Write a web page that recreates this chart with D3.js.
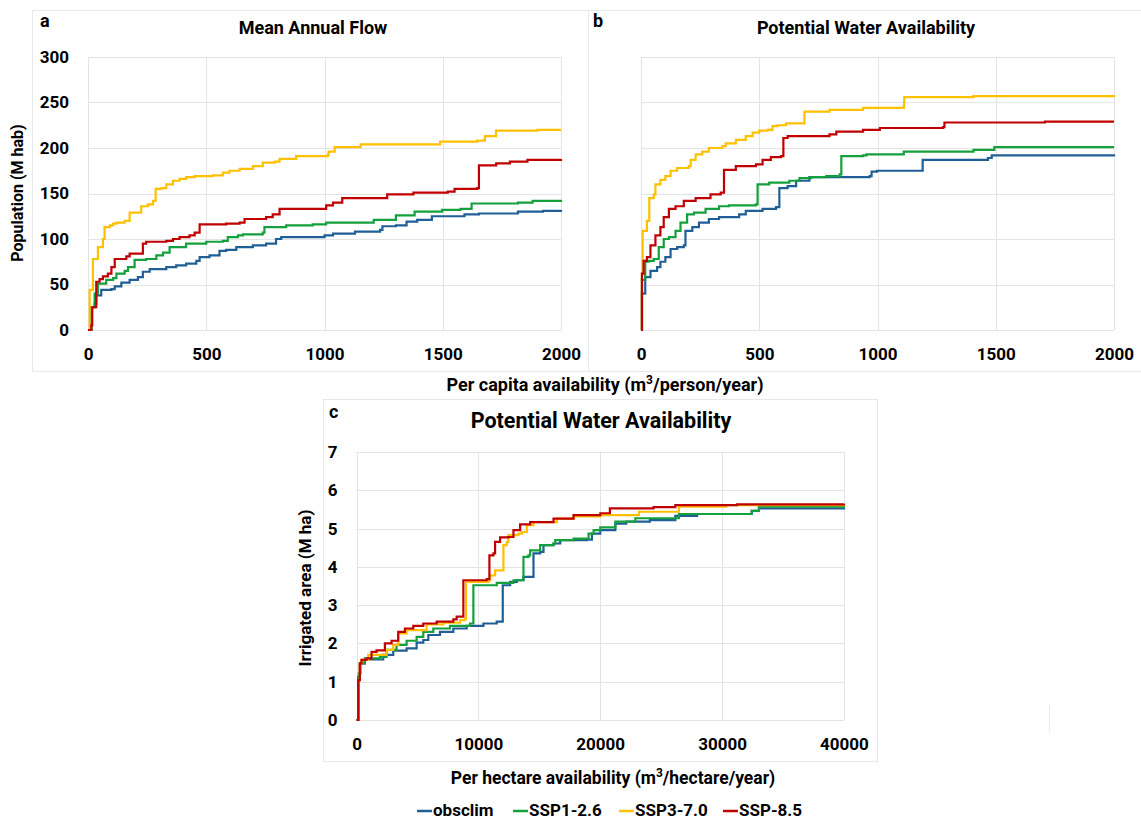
<!DOCTYPE html>
<html>
<head>
<meta charset="utf-8">
<script src="https://cdn.jsdelivr.net/npm/d3@7"></script>
<style>
    body { margin: 0; background: #fff; }
    svg text { font-family: Roboto, "Noto Sans", sans-serif; font-weight: bold; fill: #000; }
    .grid line { stroke: #e4e4e4; stroke-width: 1; }
    .tick text { font-size: 17px; }
</style>
</head>
<body>
<div id="chart"></div>
<script>

// series names and colours
var seriesNames = ["obsclim", "SSP1-2.6", "SSP3-7.0", "SSP-8.5"];
var seriesColors = ["#1f5f96", "#14a03c", "#ffc000", "#c00000"];

// panel a : Mean Annual Flow, [availability m3/person/year, population M hab]
var flowObsclim = [[0,0],[14,25],[28,29],[35,38],[56,44],[99,45],[113,48],[141,52],[176,55],[211,58],[232,64],[261,67],[331,69],[373,71],[415,73],[458,76],[472,80],[514,82],[556,87],[584,88],[627,91],[697,93],[753,95],[795,100],[817,102],[1000,104],[1036,106],[1129,108],[1235,110],[1245,114],[1302,115],[1347,119],[1392,121],[1454,125],[1592,127],[1653,128],[1818,130],[1924,131],[2000,132]];
var flowSsp126 = [[0,0],[14,25],[28,40],[42,51],[77,55],[106,57],[120,62],[155,65],[169,69],[197,77],[246,78],[289,82],[317,85],[345,91],[415,95],[500,97],[570,98],[591,102],[634,104],[655,105],[739,107],[746,113],[838,115],[950,116],[1007,118],[1208,121],[1302,126],[1381,130],[1497,132],[1575,133],[1622,139],[1818,140],[1880,142],[2000,143]];
var flowSsp370 = [[0,0],[7,44],[21,78],[42,91],[63,100],[70,113],[92,115],[106,117],[120,118],[155,120],[176,129],[211,129],[225,136],[253,138],[275,142],[286,155],[310,156],[331,160],[359,164],[387,166],[415,168],[451,169],[528,170],[570,173],[598,175],[641,177],[697,180],[739,184],[789,185],[810,188],[880,191],[1014,193],[1018,196],[1043,201],[1153,204],[1489,207],[1646,208],[1678,213],[1725,219],[1900,220],[2000,220]];
var flowSsp585 = [[0,0],[14,5],[18,25],[35,53],[49,56],[63,59],[84,62],[99,69],[113,78],[134,78],[162,81],[176,84],[218,84],[232,95],[246,97],[331,98],[359,100],[387,102],[429,104],[451,107],[472,116],[528,116],[584,117],[641,118],[662,122],[753,124],[781,127],[810,133],[979,133],[1007,137],[1036,140],[1075,145],[1265,149],[1376,151],[1521,152],[1550,155],[1646,156],[1653,181],[1726,183],[1784,185],[1858,187],[2000,188]];

// panel b : Potential Water Availability, [availability m3/person/year, population M hab]
var pwaObsclim = [[0,0],[4,40],[18,58],[40,65],[68,69],[82,75],[103,80],[125,89],[153,91],[181,93],[188,109],[217,113],[245,118],[287,122],[330,124],[415,127],[443,131],[514,133],[571,135],[585,156],[620,158],[656,164],[712,168],[826,168],[967,169],[975,174],[998,175],[1191,187],[1467,189],[1483,192],[2000,193]];
var pwaSsp126 = [[0,0],[4,55],[18,75],[33,76],[54,78],[75,91],[96,100],[118,102],[146,109],[167,118],[195,127],[224,129],[273,133],[330,136],[372,137],[486,138],[493,160],[542,162],[627,164],[670,167],[719,168],[783,169],[840,171],[847,191],[939,192],[953,193],[1111,196],[1406,198],[1494,201],[2000,201]];
var pwaSsp370 = [[0,0],[4,62],[7,109],[25,120],[35,145],[54,149],[61,160],[82,165],[103,169],[125,175],[153,178],[202,180],[210,187],[231,193],[259,196],[287,200],[344,202],[358,205],[401,209],[443,213],[472,217],[500,219],[535,220],[556,224],[578,225],[613,227],[684,227],[691,240],[797,242],[939,244],[1010,244],[1111,246],[1113,256],[1406,257],[2000,258]];
var pwaSsp585 = [[0,0],[4,62],[11,76],[25,80],[40,93],[61,104],[82,113],[96,124],[118,133],[146,136],[181,142],[231,145],[280,145],[294,149],[337,151],[351,176],[401,180],[486,182],[514,187],[549,190],[592,191],[602,211],[620,213],[797,215],[826,218],[939,220],[1010,222],[1277,223],[1283,228],[1708,229],[2000,229]];

// panel c : Potential Water Availability, [availability m3/hectare/year, irrigated area M ha]
var irrObsclim = [[0,0],[137,1.13],[274,1.48],[685,1.58],[2192,1.70],[3014,1.81],[4110,1.87],[4932,2.02],[5480,2.09],[5891,2.22],[6850,2.30],[7946,2.39],[9042,2.46],[10412,2.52],[11508,2.57],[12001,2.58],[12001,3.52],[12604,3.61],[13152,3.65],[13700,3.74],[14385,3.74],[14522,4.35],[15070,4.39],[15344,4.57],[16166,4.61],[16714,4.70],[18906,4.71],[19317,4.87],[20002,4.96],[21240,5.13],[22130,5.18],[24070,5.22],[26160,5.33],[27950,5.38],[32430,5.46],[33020,5.53],[40000,5.55]];
var irrSsp126 = [[0,0],[192,1.22],[329,1.48],[685,1.61],[1918,1.65],[2466,1.83],[3288,1.96],[4110,2.07],[4932,2.17],[5480,2.30],[6302,2.39],[7672,2.46],[9316,2.52],[9590,2.54],[9590,3.52],[11508,3.58],[12878,3.65],[13645,3.67],[13700,4.26],[14111,4.30],[14248,4.43],[15070,4.57],[16166,4.61],[16303,4.70],[17810,4.74],[19043,4.87],[19454,4.96],[20002,5.03],[21240,5.18],[22880,5.27],[26460,5.38],[32430,5.46],[33020,5.57],[40000,5.60]];
var irrSsp370 = [[0,0],[137,1.04],[274,1.48],[411,1.57],[960,1.70],[2466,1.83],[3014,1.96],[3425,2.26],[4110,2.35],[5754,2.50],[7124,2.54],[8494,2.61],[8905,2.65],[8987,3.61],[10823,3.65],[10960,3.78],[11371,3.91],[11919,3.91],[12056,4.57],[12330,4.65],[12467,4.83],[13289,4.87],[13563,4.91],[13974,5.09],[14522,5.17],[15892,5.17],[16440,5.26],[17810,5.32],[20002,5.35],[23180,5.44],[26460,5.57],[30340,5.61],[40000,5.62]];
var irrSsp585 = [[0,0],[137,1.04],[274,1.48],[411,1.57],[822,1.61],[1233,1.78],[1644,1.82],[2329,2.00],[2877,2.07],[3425,2.30],[3973,2.39],[4658,2.46],[5480,2.52],[6576,2.57],[7946,2.63],[8220,2.70],[8768,3.65],[10686,3.68],[10905,4.30],[11234,4.35],[11371,4.65],[11782,4.77],[12467,4.78],[12878,4.96],[13426,5.11],[14248,5.17],[15618,5.17],[16166,5.26],[17810,5.35],[20002,5.40],[20790,5.53],[24370,5.56],[26160,5.61],[31230,5.63],[40000,5.65]];

// tick values
var perCapitaTicks = [0, 500, 1000, 1500, 2000];
var populationTicks = [0, 50, 100, 150, 200, 250, 300];
var perHectareTicks = [0, 10000, 20000, 30000, 40000];
var areaTicks = [0, 1, 2, 3, 4, 5, 6, 7];

var svg = d3.select('#chart').append('svg')
    .attr('width', 1141)
    .attr('height', 819);

// panel frames
var frame = svg.append('g')
    .attr('fill', 'none')
    .attr('stroke', '#e8e8e8')
    .attr('stroke-width', 1);
frame.append('rect').attr('x', 32.5).attr('y', 10.5).attr('width', 556).attr('height', 361);
frame.append('path').attr('d', 'M588.5,10.5H1141M588.5,371.5H1141');
frame.append('rect').attr('x', 323.5).attr('y', 399.5).attr('width', 554).attr('height', 362);
frame.append('path').attr('d', 'M1049.5,705V732');

// divider between a and b has gaps
svg.append('path')
    .attr('d', 'M588.5,10V52M588.5,63V230M588.5,248V371')
    .attr('stroke', '#e8e8e8')
    .attr('fill', 'none');

function drawPanel(opt) {
    var xScale = d3.scaleLinear().domain(opt.xDomain).range([opt.left, opt.right]);
    var yScale = d3.scaleLinear().domain(opt.yDomain).range([opt.bottom, opt.top]);

    var g = svg.append('g');

    // grid
    var grid = g.append('g').attr('class', 'grid');
    grid.selectAll('.gx').data(opt.xTicks).enter().append('line')
        .attr('x1', function (d) { return Math.round(xScale(d)) + 0.5; })
        .attr('x2', function (d) { return Math.round(xScale(d)) + 0.5; })
        .attr('y1', opt.top).attr('y2', opt.bottom);
    grid.selectAll('.gy').data(opt.yTicks).enter().append('line')
        .attr('x1', opt.left).attr('x2', opt.right)
        .attr('y1', function (d) { return Math.round(yScale(d)) + 0.5; })
        .attr('y2', function (d) { return Math.round(yScale(d)) + 0.5; });

    // axes, labels only
    var xAxis = d3.axisBottom(xScale).tickValues(opt.xTicks).tickSize(0).tickPadding(18)
        .tickFormat(d3.format('d'));
    var gx = g.append('g')
        .attr('transform', 'translate(0,' + opt.bottom + ')')
        .call(xAxis);
    gx.select('.domain').remove();

    if (opt.showY) {
        var yAxis = d3.axisLeft(yScale).tickValues(opt.yTicks).tickSize(0).tickPadding(opt.yPad)
            .tickFormat(d3.format('d'));
        var gy = g.append('g')
            .attr('transform', 'translate(' + opt.left + ',0)')
            .call(yAxis);
        gy.select('.domain').remove();
    }

    // lines
    var line = d3.line()
        .x(function (d) { return xScale(d[0]); })
        .y(function (d) { return yScale(d[1]); })
        .curve(d3.curveStepAfter);

    opt.series.forEach(function (s, i) {
        g.append('path')
            .datum(s)
            .attr('fill', 'none')
            .attr('stroke', seriesColors[i])
            .attr('stroke-width', 2.2)
            .attr('d', line);
    });

    // titles
    g.append('text')
        .attr('x', opt.letterX).attr('y', opt.letterY)
        .style('font-size', '18px')
        .text(opt.letter);
    g.append('text')
        .attr('x', opt.titleX).attr('y', opt.titleY)
        .attr('text-anchor', 'middle')
        .style('font-size', opt.titleSize)
        .text(opt.title);
}

drawPanel({
    left: 88, right: 561, top: 57, bottom: 330,
    xDomain: [0, 2000], yDomain: [0, 300],
    xTicks: perCapitaTicks, yTicks: populationTicks,
    showY: true, yPad: 19,
    series: [flowObsclim, flowSsp126, flowSsp370, flowSsp585],
    letter: 'a', letterX: 40, letterY: 27,
    title: 'Mean Annual Flow', titleX: 313, titleY: 34, titleSize: '18px'
});

drawPanel({
    left: 641, right: 1114, top: 57, bottom: 330,
    xDomain: [0, 2000], yDomain: [0, 300],
    xTicks: perCapitaTicks, yTicks: populationTicks,
    showY: false,
    series: [pwaObsclim, pwaSsp126, pwaSsp370, pwaSsp585],
    letter: 'b', letterX: 593, letterY: 27,
    title: 'Potential Water Availability', titleX: 866, titleY: 34, titleSize: '18px'
});

drawPanel({
    left: 356.5, right: 844, top: 452, bottom: 720,
    xDomain: [0, 40000], yDomain: [0, 7],
    xTicks: perHectareTicks, yTicks: areaTicks,
    showY: true, yPad: 19,
    series: [irrObsclim, irrSsp126, irrSsp370, irrSsp585],
    letter: 'c', letterX: 329, letterY: 418,
    title: 'Potential Water Availability', titleX: 601, titleY: 428, titleSize: '21.5px'
});

// axis titles
svg.append('text')
    .attr('transform', 'translate(23,193) rotate(-90)')
    .attr('text-anchor', 'middle')
    .style('font-size', '16px')
    .text('Population (M hab)');

svg.append('text')
    .attr('transform', 'translate(311,588) rotate(-90)')
    .attr('text-anchor', 'middle')
    .style('font-size', '17px')
    .text('Irrigated area (M ha)');

var xt1 = svg.append('text')
    .attr('x', 605).attr('y', 391)
    .attr('text-anchor', 'middle')
    .style('font-size', '18px');
xt1.append('tspan').text('Per capita availability (m');
xt1.append('tspan').attr('dy', -7).style('font-size', '12px').text('3');
xt1.append('tspan').attr('dy', 7).text('/person/year)');

var xt2 = svg.append('text')
    .attr('x', 613).attr('y', 784)
    .attr('text-anchor', 'middle')
    .style('font-size', '17.5px');
xt2.append('tspan').text('Per hectare availability (m');
xt2.append('tspan').attr('dy', -7).style('font-size', '12px').text('3');
xt2.append('tspan').attr('dy', 7).text('/hectare/year)');

// legend
var legendX = [417, 513, 619, 723];
var legend = svg.append('g');
seriesNames.forEach(function (name, i) {
    legend.append('line')
        .attr('x1', legendX[i]).attr('x2', legendX[i] + 15)
        .attr('y1', 811).attr('y2', 811)
        .attr('stroke', seriesColors[i])
        .attr('stroke-width', 2.5);
    legend.append('text')
        .attr('x', legendX[i] + 16).attr('y', 816)
        .style('font-size', '17px')
        .text(name);
});

</script>
</body>
</html>
